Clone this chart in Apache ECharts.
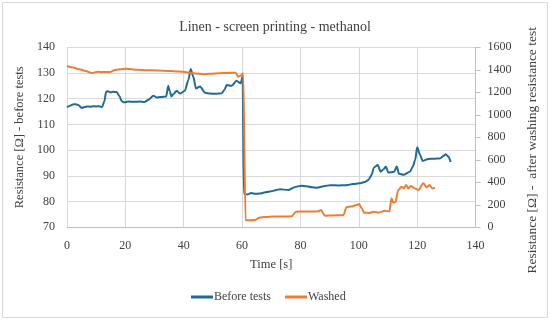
<!DOCTYPE html>
<html>
<head>
<meta charset="utf-8">
<script src="https://cdn.jsdelivr.net/npm/echarts@6/dist/echarts.min.js"></script>
<style>html,body{margin:0;padding:0;background:#fff;}#c{width:550px;height:320px;}</style>
</head>
<body>
<div id="c"></div>
<script>
var titleText = 'Linen - screen printing - methanol';
var xTicks = [0, 20, 40, 60, 80, 100, 120, 140];
var leftTicks = [70, 80, 90, 100, 110, 120, 130, 140];
var rightTicks = [0, 200, 400, 600, 800, 1000, 1200, 1400, 1600];

// Before tests: [time s, resistance Ω] (left axis)
var beforeTests = [
 [0,116.7],[1,117.3],[2,117.8],[3,117.9],[4,117.5],[5,116.4],[6,116.8],[7,117],[8,116.9],[9,117.1],[10,117],[11,117.1],[12,116.7],
 [12.8,119],[13.4,122.7],[14,122.9],[15,122.5],[16,122.7],[17,122.6],[18,121],[18.7,119.1],[19.5,118.6],[21,118.9],[23,118.8],
 [25,118.9],[26.5,118.7],[28,119.6],[29.6,121.2],[30.7,120.5],[32,120.7],[34,120.9],[34.7,125],[35.2,123],[35.8,120.9],[36.5,121.8],
 [37.6,123.1],[38.7,122],[40.4,123.1],[41.6,127.3],[42.4,131.6],[43.3,128.5],[44.2,124],[45.6,124.8],[47.3,122.3],[49,122],[51,121.9],
 [53,122.1],[54,123.5],[54.7,125.3],[56.4,125],[58.1,127],[59.5,126],[60.2,128.6],[60.6,83],[62,82.8],[63.1,83.3],[64.5,83],
 [66,83.1],[68,83.6],[70,84],[71.8,84.5],[73,84.8],[75.8,84.5],[78,85.6],[80.4,86.2],[82,86],[84,85.6],[85.6,85.4],[88,86],[90.2,86.4],
 [93,86.3],[95.8,86.4],[98,86.8],[100.2,87.1],[102,87.6],[103.3,88.4],[104.4,90.4],[105.2,93.3],[106.5,94.2],[107.5,91.6],[108.5,92.6],
 [109.3,93.6],[110.1,91.3],[112.1,91.6],[113,93.6],[113.8,90.8],[115.3,90.4],[117.5,91.6],[118.5,93.5],[119.3,96.1],[120,101.1],
 [121,98.2],[121.9,95.8],[123.8,96.6],[126,96.7],[127.8,96.8],[129,97.7],[129.8,98.4],[130.7,97.5],[131.5,95.4]
];

// Washed: [time s, resistance Ω] (right axis)
var washed = [
 [0,1434],[2,1420],[4.4,1404],[6,1392],[8.5,1372],[10.5,1382],[12.5,1380],[14.7,1380],[16.4,1398],[18,1404],[20.4,1410],[24,1400],
 [27.3,1396],[31,1394],[35.3,1390],[38,1386],[41,1378],[44,1368],[46.7,1360],[49,1366],[52.4,1370],[55,1372],[57.8,1374],[58.7,1339],
 [59.6,1350],[60.4,1370],[61.2,62],[63,62],[64.5,66],[65.9,86],[68,92],[71,95],[74,96],[77,98],[78.5,139],[81,140],[84,140],
 [86.2,142],[87,154],[88.4,103],[91,106],[94.7,108],[95.8,178],[97.5,186],[99.2,198],[100.1,207],[101,170],[101.8,130],[103.8,128],
 [105.2,139],[106.7,130],[109,148],[110.5,140],[111.2,258],[111.8,219],[112.6,225],[113.5,331],[114.7,361],[115.5,346],[116.2,376],
 [117,346],[117.8,367],[119.3,346],[120.4,331],[122.1,391],[123.3,355],[124.2,376],[125.2,346],[126.1,352]
];

var FONT = 'Liberation Serif';
var TXT = '#404040';
var GRIDC = '#d9d9d9';

var chart = echarts.init(document.getElementById('c'), null, {renderer: 'canvas'});
chart.setOption({
  animation: false,
  textStyle: {fontFamily: FONT},
  graphic: [{type: 'rect', shape: {x: 2.5, y: 2.5, width: 545, height: 315}, style: {fill: 'none', stroke: '#d9d9d9', lineWidth: 1}, silent: true}],
  title: {text: titleText, left: 'center', top: 15, textStyle: {fontFamily: FONT, fontSize: 14, fontWeight: 'normal', color: TXT}},
  legend: {
    bottom: 12, left: 186, itemWidth: 22, itemHeight: 3, itemGap: 14, icon: 'rect',
    textStyle: {fontFamily: FONT, fontSize: 12, color: TXT, padding: [0,0,0,-4]},
    data: ['Before tests', 'Washed']
  },
  grid: {left: 67, right: 74.5, top: 47.3, bottom: 92.7, containLabel: false},
  xAxis: {
    type: 'value', min: xTicks[0], max: xTicks[xTicks.length-1], interval: 20,
    name: 'Time [s]', nameLocation: 'middle', nameGap: 31,
    nameTextStyle: {fontFamily: FONT, fontSize: 12.5, color: TXT},
    axisLine: {show: true, lineStyle: {color: '#bfbfbf'}},
    axisTick: {show: false},
    axisLabel: {fontFamily: FONT, fontSize: 12, color: TXT, margin: 13},
    splitLine: {show: true, lineStyle: {color: GRIDC}}
  },
  yAxis: [{
    type: 'value', min: leftTicks[0], max: leftTicks[leftTicks.length-1], interval: 10,
    name: 'Resistance [Ω] - before tests', nameLocation: 'middle', nameGap: 34, nameRotate: 90,
    nameTextStyle: {fontFamily: FONT, fontSize: 12.5, color: TXT},
    axisLine: {show: false}, axisTick: {show: false},
    axisLabel: {fontFamily: FONT, fontSize: 12, color: TXT, margin: 12},
    splitLine: {show: true, lineStyle: {color: GRIDC}}
  }, {
    type: 'value', position: 'right', min: rightTicks[0], max: rightTicks[rightTicks.length-1], interval: 200,
    name: 'Resistance [Ω] -  after washing resistance test', nameLocation: 'middle', nameGap: 50, nameRotate: 90,
    nameTextStyle: {fontFamily: FONT, fontSize: 13.5, color: TXT, padding: [0, 26, 0, 0]},
    axisLine: {show: true, lineStyle: {color: '#bfbfbf'}},
    axisTick: {show: true, length: 5, lineStyle: {color: '#bfbfbf'}},
    axisLabel: {fontFamily: FONT, fontSize: 12, color: TXT, margin: 12, formatter: function (v) { return String(v); }},
    splitLine: {show: false}
  }],
  series: [{
    name: 'Before tests', type: 'line', yAxisIndex: 0, data: beforeTests,
    showSymbol: false, symbol: 'none', smooth: 0.25, smoothMonotone: 'x',
    lineStyle: {color: '#1f6b94', width: 2}, itemStyle: {color: '#1f6b94'}
  }, {
    name: 'Washed', type: 'line', yAxisIndex: 1, data: washed,
    showSymbol: false, symbol: 'none', smooth: 0.25, smoothMonotone: 'x',
    lineStyle: {color: '#f07c33', width: 2}, itemStyle: {color: '#f07c33'}
  }]
});
</script>
</body>
</html>
